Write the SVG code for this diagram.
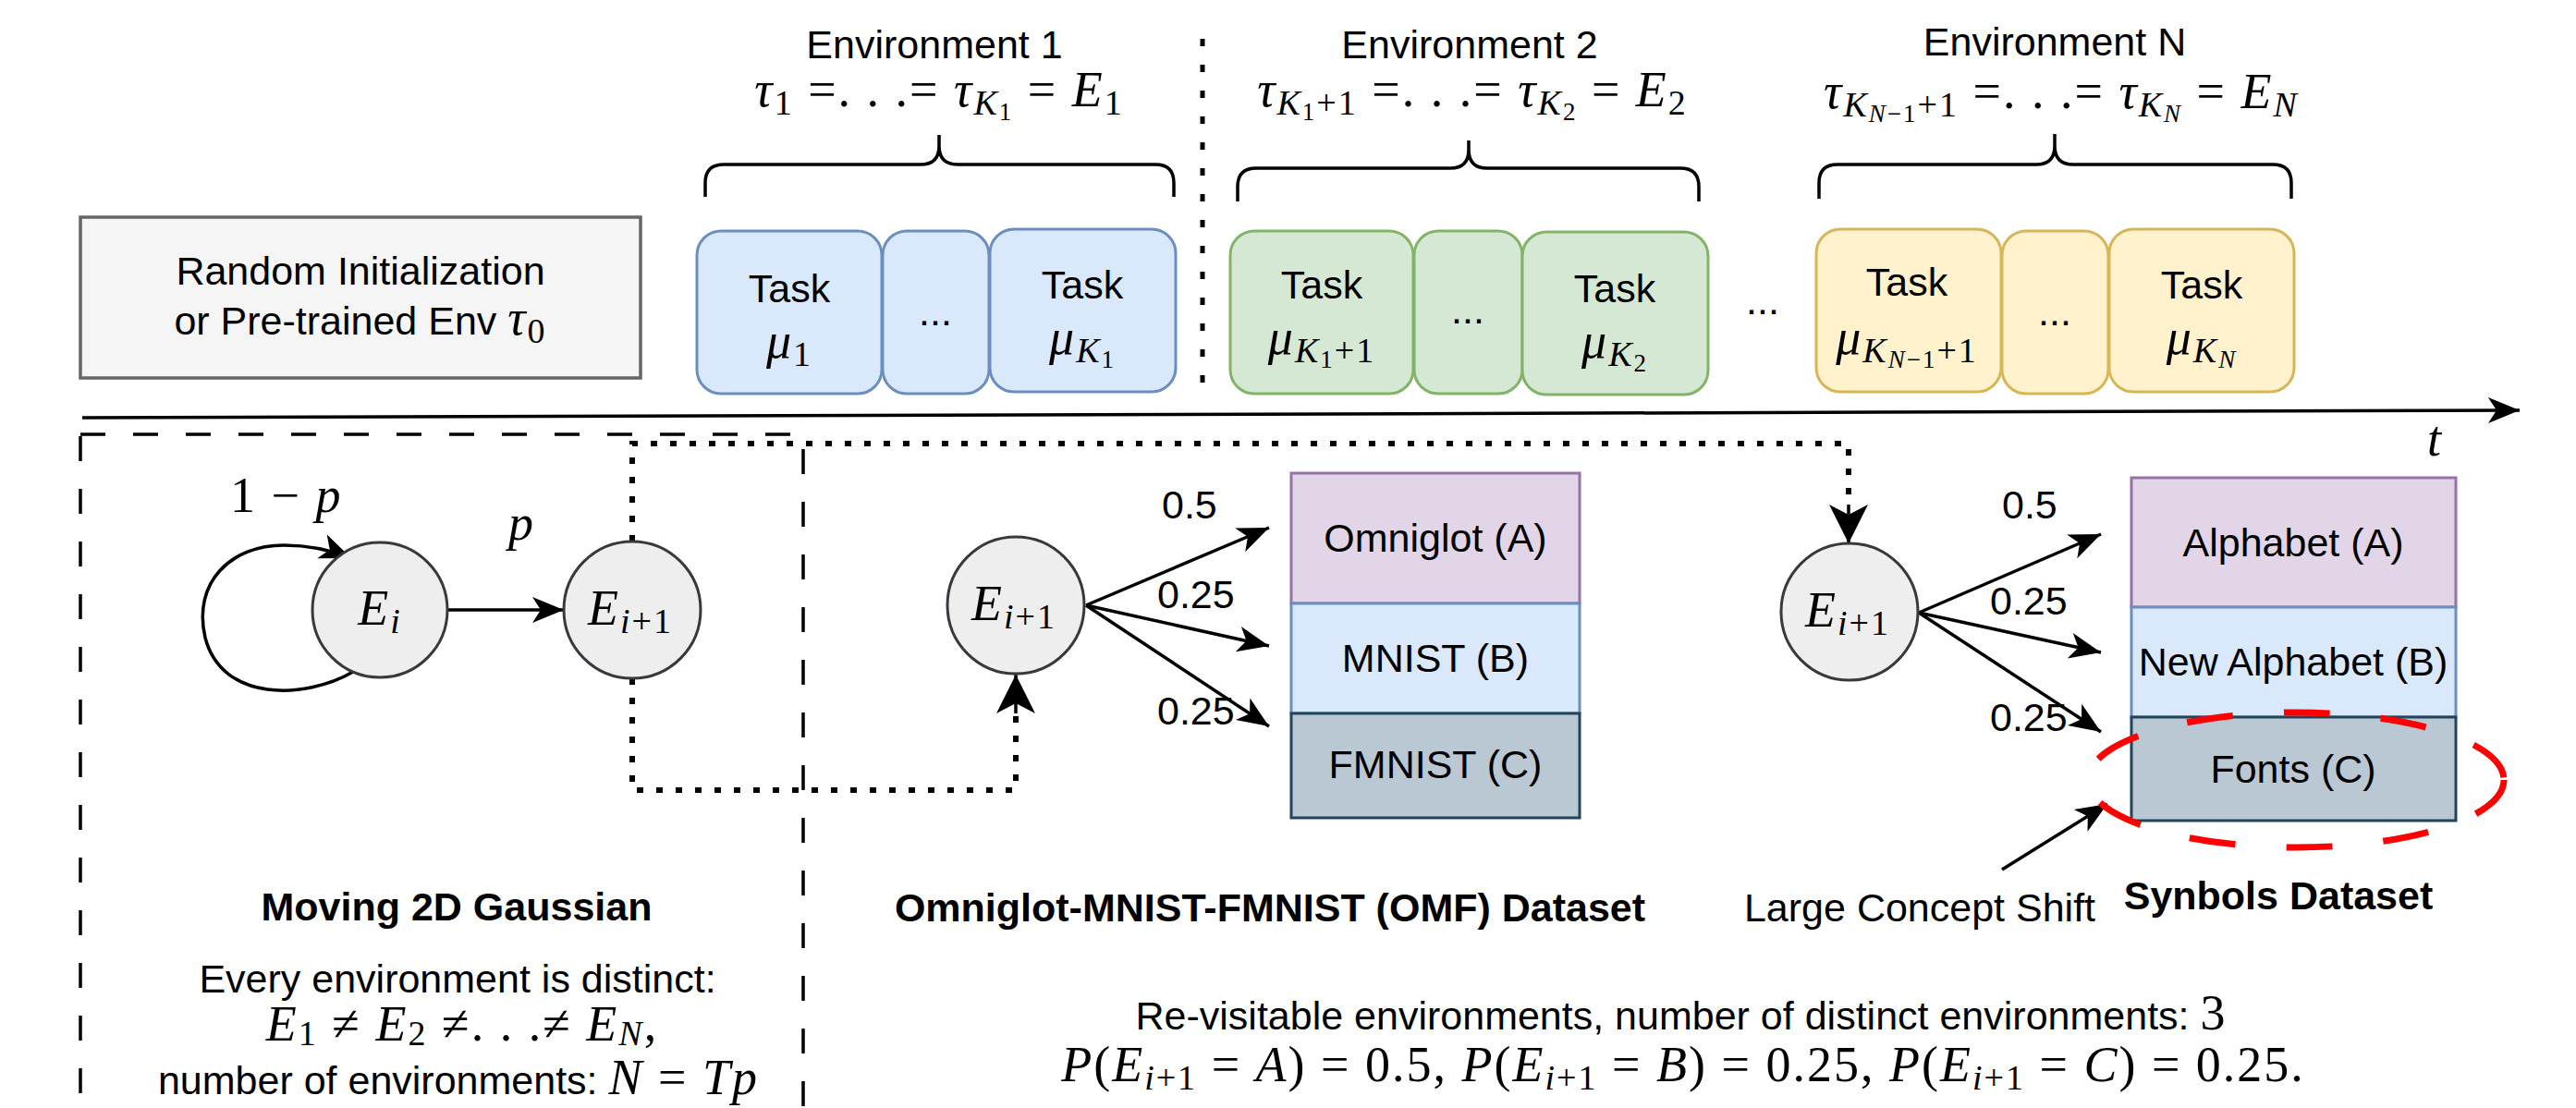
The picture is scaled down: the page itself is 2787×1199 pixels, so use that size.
<svg xmlns="http://www.w3.org/2000/svg" width="2787" height="1199" viewBox="0 0 2787 1199">
<style>
.s{font-family:"Liberation Sans",Arial,sans-serif;font-size:43px;fill:#000}
.b{font-weight:bold}
.m{font-family:"Liberation Serif","Times New Roman",serif;font-size:54px;letter-spacing:2px;fill:#000}
.i{font-style:italic}
.c{text-anchor:middle}
.u{font-size:38px}
.uu{font-size:27px}
.blue{fill:#dae8fc;stroke:#6c8ebf;stroke-width:3}
.green{fill:#d5e8d4;stroke:#82b366;stroke-width:3}
.yellow{fill:#fff2cc;stroke:#d6b656;stroke-width:3}
.node{fill:#eeeeee;stroke:#36393d;stroke-width:3}
.edge{fill:none;stroke:#000;stroke-width:3.5}
.dot{fill:none;stroke:#000;stroke-width:6;stroke-dasharray:7 14}
.brace{fill:none;stroke:#000;stroke-width:3.5}
</style>
<defs>
<marker id="arr" markerUnits="userSpaceOnUse" markerWidth="40" markerHeight="40" viewBox="0 0 40 40" refX="34" refY="20" orient="auto">
<path d="M34 20 L0 6 L9 20 L0 34 Z" fill="#000"/>
</marker>
<marker id="arrBig" markerUnits="userSpaceOnUse" markerWidth="46" markerHeight="46" viewBox="0 0 46 46" refX="42" refY="23" orient="auto">
<path d="M42 23 L0 2 L11 23 L0 44 Z" fill="#000"/>
</marker>
</defs>

<g id="timeline">
<line x1="89" y1="452" x2="2726" y2="444" class="edge" stroke-width="5" marker-end="url(#arr)"/>
<text class="m i" x="2626" y="493" font-size="64">t</text>
</g>

<line id="separator" x1="1301" y1="42" x2="1301" y2="424" stroke="#000" stroke-width="5" stroke-dasharray="8 20"/>

<g id="init">
<rect x="87" y="235" width="606" height="174" fill="#f5f5f5" stroke="#666666" stroke-width="3.5"/>
<text class="s c" x="390" y="308" fill="#333">Random Initialization</text>
<text class="s c" x="390" y="362" fill="#333">or Pre-trained Env <tspan class="m i">τ</tspan><tspan class="m u" dy="9">0</tspan></text>
</g>

<g id="env1">
<text class="s c" x="1011" y="63">Environment 1</text>
<text class="m c" x="1016" y="115"><tspan class="i">τ</tspan><tspan class="u" dy="9">1</tspan><tspan dy="-9"> =. . .= </tspan><tspan class="i">τ</tspan><tspan class="i u" dy="9">K</tspan><tspan class="uu" dy="6">1</tspan><tspan dy="-15"> = </tspan><tspan class="i">E</tspan><tspan class="u" dy="9">1</tspan></text>
<path class="brace" d="M763 213 L763 198 Q763 178 783 178 L996 178 Q1016 178 1016 158 L1016 146 M1016 158 Q1016 178 1036 178 L1250 178 Q1270 178 1270 198 L1270 213"/>
</g>
<g id="task-b1"><rect class="blue" x="754" y="250" width="200" height="176" rx="26"/>
<text class="s c" x="854" y="327">Task</text>
<text class="m c" x="854" y="387"><tspan class="i">μ</tspan><tspan class="u" dy="9">1</tspan></text></g>
<g id="task-b2"><rect class="blue" x="955" y="250" width="115" height="176" rx="26"/>
<text class="s c" x="1012" y="352">...</text></g>
<g id="task-b3"><rect class="blue" x="1071" y="248" width="201" height="176" rx="26"/>
<text class="s c" x="1171" y="323">Task</text>
<text class="m c" x="1171" y="383"><tspan class="i">μ</tspan><tspan class="i u" dy="9">K</tspan><tspan class="uu" dy="6">1</tspan></text></g>

<g id="env2">
<text class="s c" x="1590" y="63">Environment 2</text>
<text class="m c" x="1593" y="115"><tspan class="i">τ</tspan><tspan class="i u" dy="9">K</tspan><tspan class="uu" dy="6">1</tspan><tspan class="u" dy="-6">+1</tspan><tspan dy="-9"> =. . .= </tspan><tspan class="i">τ</tspan><tspan class="i u" dy="9">K</tspan><tspan class="uu" dy="6">2</tspan><tspan dy="-15"> = </tspan><tspan class="i">E</tspan><tspan class="u" dy="9">2</tspan></text>
<path class="brace" d="M1339 218 L1339 202 Q1339 182 1359 182 L1569 182 Q1589 182 1589 162 L1589 152 M1589 162 Q1589 182 1609 182 L1818 182 Q1838 182 1838 202 L1838 218"/>
</g>
<g id="task-g1"><rect class="green" x="1331" y="250" width="198" height="176" rx="26"/>
<text class="s c" x="1430" y="323">Task</text>
<text class="m c" x="1430" y="383"><tspan class="i">μ</tspan><tspan class="i u" dy="9">K</tspan><tspan class="uu" dy="6">1</tspan><tspan class="u" dy="-6">+1</tspan></text></g>
<g id="task-g2"><rect class="green" x="1530" y="250" width="117" height="176" rx="26"/>
<text class="s c" x="1588" y="350">...</text></g>
<g id="task-g3"><rect class="green" x="1647" y="251" width="201" height="176" rx="26"/>
<text class="s c" x="1747" y="327">Task</text>
<text class="m c" x="1747" y="387"><tspan class="i">μ</tspan><tspan class="i u" dy="9">K</tspan><tspan class="uu" dy="6">2</tspan></text></g>

<text id="between-dots" class="s c" x="1907" y="340">...</text>

<g id="envN">
<text class="s c" x="2223" y="60">Environment N</text>
<text class="m c" x="2230" y="117"><tspan class="i">τ</tspan><tspan class="i u" dy="9">K</tspan><tspan class="i uu" dy="6">N</tspan><tspan class="uu">−1</tspan><tspan class="u" dy="-6">+1</tspan><tspan dy="-9"> =. . .= </tspan><tspan class="i">τ</tspan><tspan class="i u" dy="9">K</tspan><tspan class="i uu" dy="6">N</tspan><tspan dy="-15"> = </tspan><tspan class="i">E</tspan><tspan class="i u" dy="9">N</tspan></text>
<path class="brace" d="M1968 215 L1968 198 Q1968 178 1988 178 L2203 178 Q2223 178 2223 158 L2223 145 M2223 158 Q2223 178 2243 178 L2459 178 Q2479 178 2479 198 L2479 215"/>
</g>
<g id="task-y1"><rect class="yellow" x="1965" y="248" width="200" height="176" rx="26"/>
<text class="s c" x="2063" y="320">Task</text>
<text class="m c" x="2063" y="383" letter-spacing="1"><tspan class="i">μ</tspan><tspan class="i u" dy="9">K</tspan><tspan class="i uu" dy="6">N</tspan><tspan class="uu">−1</tspan><tspan class="u" dy="-6">+1</tspan></text></g>
<g id="task-y2"><rect class="yellow" x="2166" y="250" width="115" height="176" rx="26"/>
<text class="s c" x="2223" y="352">...</text></g>
<g id="task-y3"><rect class="yellow" x="2282" y="248" width="200" height="176" rx="26"/>
<text class="s c" x="2382" y="323">Task</text>
<text class="m c" x="2382" y="383"><tspan class="i">μ</tspan><tspan class="i u" dy="9">K</tspan><tspan class="i uu" dy="6">N</tspan></text></g>

<rect id="gaussian-panel" x="87" y="470" width="782" height="800" fill="none" stroke="#000" stroke-width="3.5" stroke-dasharray="27 30"/>

<g id="connectors">
<path class="edge" d="M382 727 C330 757 240 760 222 690 C208 630 250 590 307 590 C335 590 360 596 380 604" marker-end="url(#arr)"/>
<line class="edge" x1="483" y1="660" x2="610" y2="660" marker-end="url(#arr)"/>
<path class="dot" d="M684 586 L684 480 L2000 480 L2000 546"/>
<path class="edge" d="M2000 546 L2000 588" stroke="none" marker-end="url(#arrBig)"/>
<path class="dot" d="M684 734 L684 855 L1099 855 L1099 772"/>
<path class="edge" d="M1099 772 L1099 730" stroke="none" marker-end="url(#arrBig)"/>
<line class="edge" x1="1175" y1="655" x2="1373" y2="571" marker-end="url(#arr)"/>
<line class="edge" x1="1175" y1="655" x2="1373" y2="699" marker-end="url(#arr)"/>
<line class="edge" x1="1175" y1="655" x2="1373" y2="786" marker-end="url(#arr)"/>
<line class="edge" x1="2076" y1="663" x2="2273" y2="578" marker-end="url(#arr)"/>
<line class="edge" x1="2076" y1="663" x2="2273" y2="706" marker-end="url(#arr)"/>
<line class="edge" x1="2076" y1="663" x2="2273" y2="792" marker-end="url(#arr)"/>
<line class="edge" x1="2166" y1="941" x2="2280" y2="870" marker-end="url(#arr)"/>
</g>

<text id="lbl-1mp" class="m" x="249" y="554"><tspan>1 − </tspan><tspan class="i">p</tspan></text>
<text id="lbl-p" class="m i" x="550" y="584">p</text>

<g id="node-Ei"><circle class="node" cx="411" cy="660" r="73"/>
<text class="m c" x="411" y="676"><tspan class="i">E</tspan><tspan class="i u" dy="9">i</tspan></text></g>
<g id="node-Ei1-a"><circle class="node" cx="684" cy="660" r="74"/>
<text class="m c" x="682" y="676" letter-spacing="0"><tspan class="i">E</tspan><tspan class="u" dy="9"><tspan class="i">i</tspan>+1</tspan></text></g>
<g id="node-Ei1-b"><circle class="node" cx="1099" cy="655" r="74"/>
<text class="m c" x="1097" y="671" letter-spacing="0"><tspan class="i">E</tspan><tspan class="u" dy="9"><tspan class="i">i</tspan>+1</tspan></text></g>
<g id="node-Ei1-c"><circle class="node" cx="2001" cy="662" r="74"/>
<text class="m c" x="1999" y="678" letter-spacing="0"><tspan class="i">E</tspan><tspan class="u" dy="9"><tspan class="i">i</tspan>+1</tspan></text></g>

<text class="s" x="1257" y="561">0.5</text>
<text class="s" x="1252" y="658">0.25</text>
<text class="s" x="1252" y="784">0.25</text>
<text class="s" x="2166" y="561">0.5</text>
<text class="s" x="2153" y="665">0.25</text>
<text class="s" x="2153" y="791">0.25</text>

<g id="omf-a"><rect x="1397" y="512" width="312" height="141" fill="#e1d5e7" stroke="#9673a6" stroke-width="3"/>
<text class="s c" x="1553" y="597">Omniglot (A)</text></g>
<g id="omf-b"><rect x="1397" y="653" width="312" height="119" fill="#dae8fc" stroke="#6c8ebf" stroke-width="3"/>
<text class="s c" x="1553" y="727">MNIST (B)</text></g>
<g id="omf-c"><rect x="1397" y="772" width="312" height="113" fill="#bac8d3" stroke="#23445d" stroke-width="3"/>
<text class="s c" x="1553" y="842">FMNIST (C)</text></g>

<g id="sym-a"><rect x="2306" y="517" width="351" height="140" fill="#e1d5e7" stroke="#9673a6" stroke-width="3"/>
<text class="s c" x="2481" y="602">Alphabet (A)</text></g>
<g id="sym-b"><rect x="2306" y="657" width="351" height="119" fill="#dae8fc" stroke="#6c8ebf" stroke-width="3"/>
<text class="s c" x="2481" y="731">New Alphabet (B)</text></g>
<g id="sym-c"><rect x="2306" y="776" width="351" height="112" fill="#bac8d3" stroke="#23445d" stroke-width="3"/>
<text class="s c" x="2481" y="847">Fonts (C)</text></g>

<ellipse id="shift-highlight" cx="2484" cy="844" rx="225" ry="73" fill="none" stroke="#ff0000" stroke-width="7" stroke-dasharray="50 55"/>

<text class="s b c" x="494" y="996">Moving 2D Gaussian</text>
<text class="s c" x="495" y="1074">Every environment is distinct:</text>
<text class="m c" x="500" y="1126" letter-spacing="3"><tspan class="i">E</tspan><tspan class="u" dy="5">1</tspan><tspan dy="-5"> ≠ </tspan><tspan class="i">E</tspan><tspan class="u" dy="5">2</tspan><tspan dy="-5"> ≠. . .≠ </tspan><tspan class="i">E</tspan><tspan class="i u" dy="5">N</tspan><tspan dy="-5">,</tspan></text>
<text class="s c" x="496" y="1184">number of environments: <tspan class="m i">N</tspan><tspan class="m"> = </tspan><tspan class="m i">Tp</tspan></text>

<text class="s b c" x="1374" y="997">Omniglot-MNIST-FMNIST (OMF) Dataset</text>
<text class="s c" x="2077" y="997">Large Concept Shift</text>
<text class="s b c" x="2465" y="984">Synbols Dataset</text>

<text class="s c" x="1819" y="1114">Re-visitable environments, number of distinct environments: <tspan class="m">3</tspan></text>
<text class="m c" x="1821" y="1170" letter-spacing="2.5"><tspan class="i">P</tspan>(<tspan class="i">E</tspan><tspan class="u" dy="9"><tspan class="i">i</tspan>+1</tspan><tspan dy="-9"> = </tspan><tspan class="i">A</tspan>) = 0.5, <tspan class="i">P</tspan>(<tspan class="i">E</tspan><tspan class="u" dy="9"><tspan class="i">i</tspan>+1</tspan><tspan dy="-9"> = </tspan><tspan class="i">B</tspan>) = 0.25, <tspan class="i">P</tspan>(<tspan class="i">E</tspan><tspan class="u" dy="9"><tspan class="i">i</tspan>+1</tspan><tspan dy="-9"> = </tspan><tspan class="i">C</tspan>) = 0.25.</text>
</svg>
